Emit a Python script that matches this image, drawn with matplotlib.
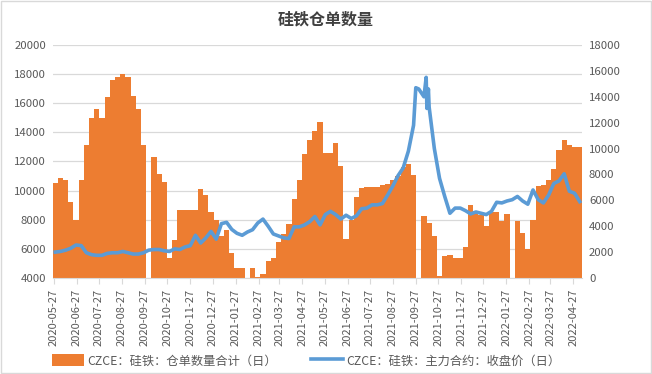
import matplotlib
matplotlib.use('Agg')
import matplotlib.pyplot as plt
import matplotlib.dates as mdates
from matplotlib.patches import Rectangle
import numpy as np
import pandas as pd

plt.rcParams['font.family'] = ['Noto Sans CJK SC', 'DejaVu Sans']

# weekly readings (Fridays), starting 2020-05-29
week_start = '2020-05-29'

# CZCE ferrosilicon warehouse receipts (left axis), nan = holiday gap
receipts = [
    10500, 10900, 10700, 9200, 8000, 10700, 13100, 15000, 15600, 15000,
    16400, 17600, 17800, 18000, 17800, 16500, 15600, 13100, np.nan, 12300,
    11150, 10600, 5400, 6600, 8700, 8650, 8650, 8650, 10100, 9700,
    8500, 7950, 6900, 7300, 5700, 4700, 4700, np.nan, 4700, 4100,
    4300, 5150, 5400, 6500, 7000, 7700, 9400, 10700, 12500, 13500,
    14100, 14700, 12600, 12600, 13300, 11700, 6700, 8000, 9560, 10180,
    10250, 10250, 10270, 10400, 10480, 10700, 11000, 11600, 11800, 11100,
    np.nan, 8280, 7800, 6900, 4150, 5500, 5600, 5370, 5370, 6100,
    9000, 8600, 8300, 7600, 8500, 8500, 7900, 8400, np.nan, 7900,
    7100, 6000, 8000, 10300, 10400, 10700, 11500, 12800, 13500, 13100,
    13000, 13000,
]

# main contract close price (right axis)
close_price = [
    2000, 2050, 2150, 2300, 2550, 2500, 1950, 1800, 1750, 1750,
    1900, 1950, 1950, 2050, 1950, 1850, 1850, 1950, 2150, 2200,
    2200, 2100, 2050, 2250, 2200, 2400, 2500, 3300, 2700, 3100,
    3600, 3000, 4200, 4300, 3750, 3450, 3300, 3550, 3730, 4250,
    4550, 4000, 3400, 3250, 3100, 3050, 3950, 3950, 4100, 4350,
    4750, 4100, 4900, 5150, 4900, 4550, 4850, 4600, 4800, 5350,
    5400, 5650, 5650, 5750, 6400, 7100, 7900, 8500, 9800, 11800,
    14600, 14000, 13200, 10000, 7700, 6300, 5000, 5400, 5400, 5200,
    4950, 5100, 5000, 4900, 5150, 5850, 5800, 5950, 6050, 6300,
    5950, 5700, 6800, 6050, 5800, 6400, 7300, 7500, 8050, 6700,
    6550, 5900,
]

# extra daily closes around the Oct 2021 spike
spike_dates = ['2021-09-27', '2021-10-11', '2021-10-12', '2021-10-14']
spike_price = [14700, 15500, 13100, 14600]

bar_label = 'CZCE：硅铁：仓单数量合计（日）'
line_label = 'CZCE：硅铁：主力合约：收盘价（日）'

dates = pd.date_range(week_start, periods=len(receipts), freq='W-FRI')
receipts = np.array(receipts, dtype=float)

price = pd.Series(close_price, index=dates)
price = pd.concat([price, pd.Series(spike_price, index=pd.to_datetime(spike_dates))]).sort_index()

fig = plt.figure(figsize=(6.52, 3.74), dpi=100)
ax = fig.add_axes([0.0813, 0.2567, 0.8113, 0.623])
ax2 = ax.twinx()

ok = ~np.isnan(receipts)
bars = ax.bar(dates[ok], receipts[ok] - 4000, bottom=4000, width=7,
              color='#ED7D31', linewidth=0, label=bar_label)
line, = ax2.plot(price.index, price.values, color='#5B9BD5', lw=2.6,
                 solid_joinstyle='round', label=line_label)

ax.set_ylim(4000, 20000)
ax.set_yticks(np.arange(4000, 20001, 2000))
ax2.set_ylim(0, 18000)
ax2.set_yticks(np.arange(0, 18001, 2000))
ax.set_xlim(pd.Timestamp('2020-05-26'), pd.Timestamp('2022-05-09'))

ax.set_axisbelow(True)
ax.yaxis.grid(True, color='#d9d9d9', lw=0.9)
for a in (ax, ax2):
    for s in ('left', 'right', 'top'):
        a.spines[s].set_visible(False)
    a.spines['bottom'].set_color('#d9d9d9')
    a.tick_params(axis='y', length=0, labelsize=8.2, labelcolor='#595959', pad=5)
ax2.spines['bottom'].set_visible(False)

ax.xaxis.set_major_locator(mdates.DayLocator(bymonthday=27))
ax.xaxis.set_major_formatter(mdates.DateFormatter('%Y-%m-%d'))
ax.tick_params(axis='x', rotation=90, labelsize=8, labelcolor='#595959',
               color='#d9d9d9', length=4)

fig.suptitle('硅铁仓单数量', x=0.5, y=0.97, fontsize=11.5, fontweight='bold',
             color='#404040')

fig.legend(handles=[bars, line], labels=[bar_label, line_label], loc='lower center',
           bbox_to_anchor=(0.47, -0.012), ncol=2, frameon=False, fontsize=8.8,
           labelcolor='#595959', handlelength=2.6, handleheight=1.1,
           handletextpad=0.3, columnspacing=2.8)

fig.patches.append(Rectangle((0.001, 0.002), 0.997, 0.995, transform=fig.transFigure,
                             fill=False, edgecolor='#d9d9d9', lw=1))

fig.savefig('out.png', dpi=100)
